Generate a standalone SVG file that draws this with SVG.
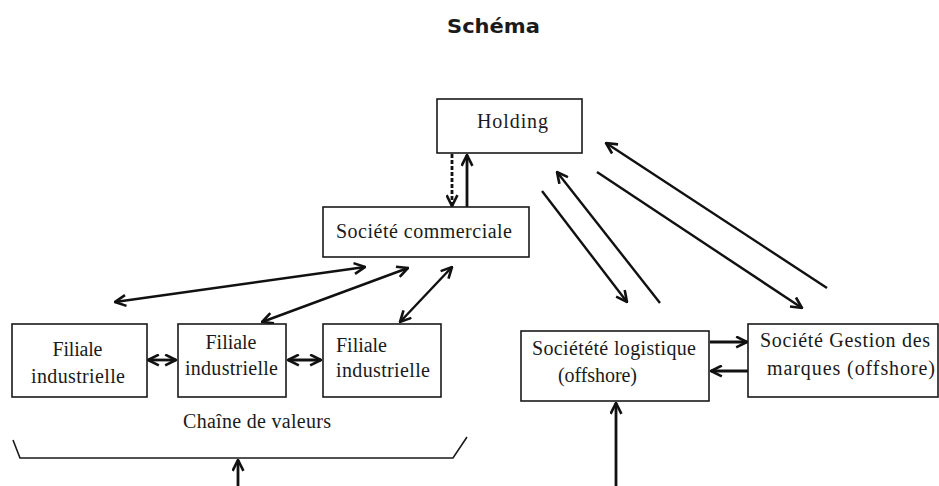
<svg xmlns="http://www.w3.org/2000/svg" width="939" height="486" viewBox="0 0 939 486">
<style>
  .box { fill: #ffffff; stroke: #1a1a1a; stroke-width: 1.6; }
  .t { font-family: "Liberation Serif", "Times New Roman", serif; font-size: 20px; fill: #1a1a1a; }
  .title { font-family: "DejaVu Sans", Verdana, sans-serif; font-weight: bold; font-size: 20px; fill: #1a1a1a; }
  .a { fill: none; stroke: #111111; stroke-width: 2.4; }
  .a2 { fill: none; stroke: #111111; stroke-width: 2.8; }
</style>
<defs>
  <marker id="head" viewBox="0 0 12 12" refX="11" refY="6" markerWidth="13" markerHeight="13" markerUnits="userSpaceOnUse" orient="auto-start-reverse">
    <path d="M1,1 L11,6 L1,11" fill="none" stroke="#111111" stroke-width="2.4"/>
  </marker>
</defs>
<rect width="939" height="486" fill="#ffffff"/>
<text class="title" x="493.5" y="33" text-anchor="middle" textLength="93" lengthAdjust="spacingAndGlyphs">Schéma</text>

<g id="connectors">
  <line class="a2" x1="452" y1="154" x2="452" y2="206" stroke-dasharray="4,2" marker-end="url(#head)"/>
  <line class="a2" x1="467" y1="207" x2="467" y2="155" marker-end="url(#head)"/>
  <line class="a" x1="115" y1="302" x2="365" y2="267" marker-start="url(#head)" marker-end="url(#head)"/>
  <line class="a" x1="262" y1="322" x2="408" y2="268" marker-start="url(#head)" marker-end="url(#head)"/>
  <line class="a" x1="400" y1="322" x2="452" y2="267" marker-start="url(#head)" marker-end="url(#head)"/>
  <line class="a2" x1="148" y1="360" x2="176" y2="360" marker-start="url(#head)" marker-end="url(#head)"/>
  <line class="a2" x1="288" y1="360" x2="321" y2="360" marker-start="url(#head)" marker-end="url(#head)"/>
  <line class="a" x1="542" y1="191" x2="627" y2="302" marker-end="url(#head)"/>
  <line class="a" x1="660" y1="303" x2="557" y2="172" marker-end="url(#head)"/>
  <line class="a" x1="597" y1="172" x2="802" y2="308" marker-end="url(#head)"/>
  <line class="a" x1="827" y1="288" x2="606" y2="143" marker-end="url(#head)"/>
  <line class="a2" x1="710" y1="342" x2="747" y2="342" marker-end="url(#head)"/>
  <line class="a2" x1="748" y1="371" x2="711" y2="371" marker-end="url(#head)"/>
  <line class="a2" x1="616" y1="486" x2="616" y2="403" marker-end="url(#head)"/>
  <line class="a2" x1="238" y1="486" x2="238" y2="460" marker-end="url(#head)"/>
  <polyline points="13,440 20,458 453,458 467,437" fill="none" stroke="#1a1a1a" stroke-width="1.6"/>
</g>

<g id="holding">
  <rect class="box" x="437" y="99" width="145" height="54"/>
  <text class="t" x="512.5" y="128" text-anchor="middle" textLength="71" lengthAdjust="spacing">Holding</text>
</g>
<g id="commerciale">
  <rect class="box" x="323" y="207" width="206" height="50"/>
  <text class="t" x="424" y="238" text-anchor="middle" textLength="176" lengthAdjust="spacing">Société commerciale</text>
</g>
<g id="filiale1">
  <rect class="box" x="12" y="324" width="135" height="73"/>
  <text class="t" x="77.5" y="356" text-anchor="middle" textLength="50" lengthAdjust="spacing">Filiale</text>
  <text class="t" x="78" y="383" text-anchor="middle" textLength="94" lengthAdjust="spacing">industrielle</text>
</g>
<g id="filiale2">
  <rect class="box" x="178" y="324" width="108" height="73"/>
  <text class="t" x="231" y="349" text-anchor="middle" textLength="51" lengthAdjust="spacing">Filiale</text>
  <text class="t" x="231.5" y="375" text-anchor="middle" textLength="93" lengthAdjust="spacing">industrielle</text>
</g>
<g id="filiale3">
  <rect class="box" x="323" y="324" width="118" height="73"/>
  <text class="t" x="336" y="352" textLength="51" lengthAdjust="spacing">Filiale</text>
  <text class="t" x="336" y="377" textLength="94" lengthAdjust="spacing">industrielle</text>
</g>
<g id="chaine">
  <text class="t" x="183" y="428" textLength="148" lengthAdjust="spacing">Chaîne de valeurs</text>
</g>
<g id="logistique">
  <rect class="box" x="521" y="331" width="188" height="70"/>
  <text class="t" x="532" y="355" textLength="164" lengthAdjust="spacing">Sociétété logistique</text>
  <text class="t" x="558" y="382" textLength="79" lengthAdjust="spacing">(offshore)</text>
</g>
<g id="gestion">
  <rect class="box" x="748" y="324" width="190" height="73"/>
  <text class="t" x="760" y="347" textLength="170" lengthAdjust="spacing">Société Gestion des</text>
  <text class="t" x="767" y="375" textLength="168" lengthAdjust="spacing">marques (offshore)</text>
</g>
</svg>
